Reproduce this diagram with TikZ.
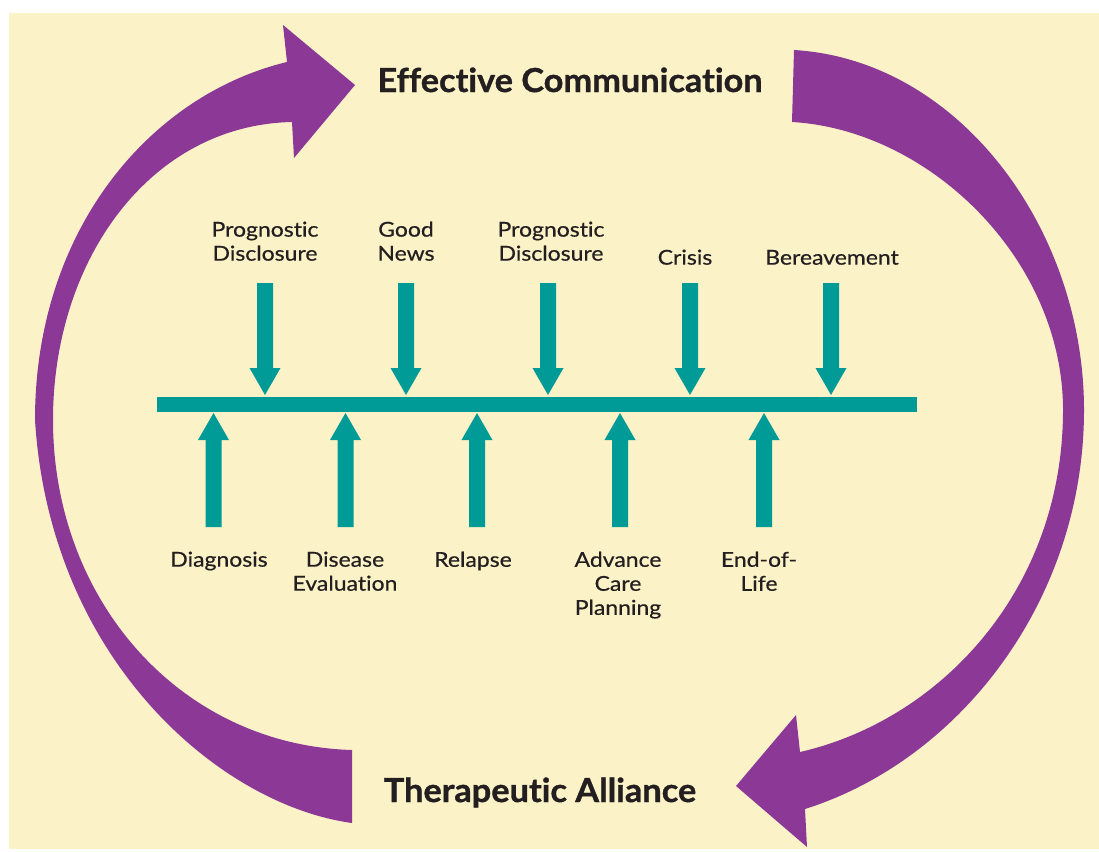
\documentclass[tikz,border=0pt]{standalone}
\usepackage{fontspec}
\setmainfont{Lato}[FakeStretch=1.12, FakeBold=0.5, Ligatures=NoCommon]
\newfontfamily\titlefont{Lato}[FakeStretch=1.04, Ligatures=NoCommon, BoldFeatures={FakeBold=1}]
\definecolor{bg}{HTML}{FCF2C8}
\definecolor{tealc}{HTML}{009B96}
\definecolor{purp}{HTML}{8C3896}
\definecolor{ink}{HTML}{231F20}
\tikzset{
  lbl/.style={font=\fontsize{20.5}{24}\selectfont, text=ink, align=center, inner sep=0pt},
  ttl/.style={font=\titlefont\fontsize{33}{36}\selectfont\bfseries, text=ink, inner sep=0pt},
  downarr/.pic={\fill[tealc] (-8,283)--(8,283)--(8,368)--(15.5,368)--(0,395)--(-15.5,368)--(-8,368)--cycle;},
  uparr/.pic={\fill[tealc] (-8,527)--(8,527)--(8,440)--(15.5,440)--(0,413)--(-15.5,440)--(-8,440)--cycle;}
}
\begin{document}
\begin{tikzpicture}[x=1pt,y=-1pt]
\useasboundingbox (0,0) rectangle (1099,851);
\fill[white] (0,0) rectangle (1099,851);
\fill[bg] (9,13) rectangle (1099,849);

% purple cycle arrows
\fill[purp] (352,823) .. controls (220,805) and (50,660) .. (35,420)
 .. controls (35,230) and (150,95) .. (287,62)
 -- (283,25) -- (355,85) -- (294,158) -- (292,122)
 .. controls (150,125) and (53,260) .. (53,420)
 .. controls (53,600) and (180,745) .. (352,750) -- cycle;
\fill[purp] (794,50) .. controls (960,60) and (1084,230) .. (1084,410)
 .. controls (1084,600) and (960,760) .. (805,809)
 -- (807,847) -- (736,786) -- (796,715) -- (800,752)
 .. controls (940,720) and (1063,590) .. (1063,410)
 .. controls (1063,260) and (930,130) .. (792,122) -- cycle;

% titles
\node[ttl, anchor=base] (ec) at (570,92) {Effective Communication};
\node[ttl, anchor=base] (ta) at (540,802) {Therapeutic Alliance};

% timeline bar
\fill[tealc] (157,397) rectangle (917,412);

% down arrows
\foreach \cx in {265,406,548,690,831} \pic at (\cx,0) {downarr};
% up arrows
\foreach \cx in {213.5,345.5,477,620,764} \pic at (\cx,0) {uparr};

% top labels
\node[lbl, anchor=south] (t1) at (265,261) {Prognostic\\Disclosure};
\node[lbl, anchor=south] (t2) at (406,261) {Good\\News};
\node[lbl, anchor=south] (t3) at (551,261) {Prognostic\\Disclosure};
\node[lbl, anchor=south] (t4) at (685,265) {Crisis};
\node[lbl, anchor=south] (t5) at (832,265) {Bereavement};

% bottom labels
\node[lbl, anchor=north] (b1) at (219,551.5) {Diagnosis};
\node[lbl, anchor=north] (b2) at (345,551.5) {Disease\\Evaluation};
\node[lbl, anchor=north] (b3) at (473,551.5) {Relapse};
\node[lbl, anchor=north] (b4) at (618,551.5) {Advance\\Care\\Planning};
\node[lbl, anchor=north] (b5) at (759,551.5) {End-of-\\Life};
\end{tikzpicture}
\end{document}
